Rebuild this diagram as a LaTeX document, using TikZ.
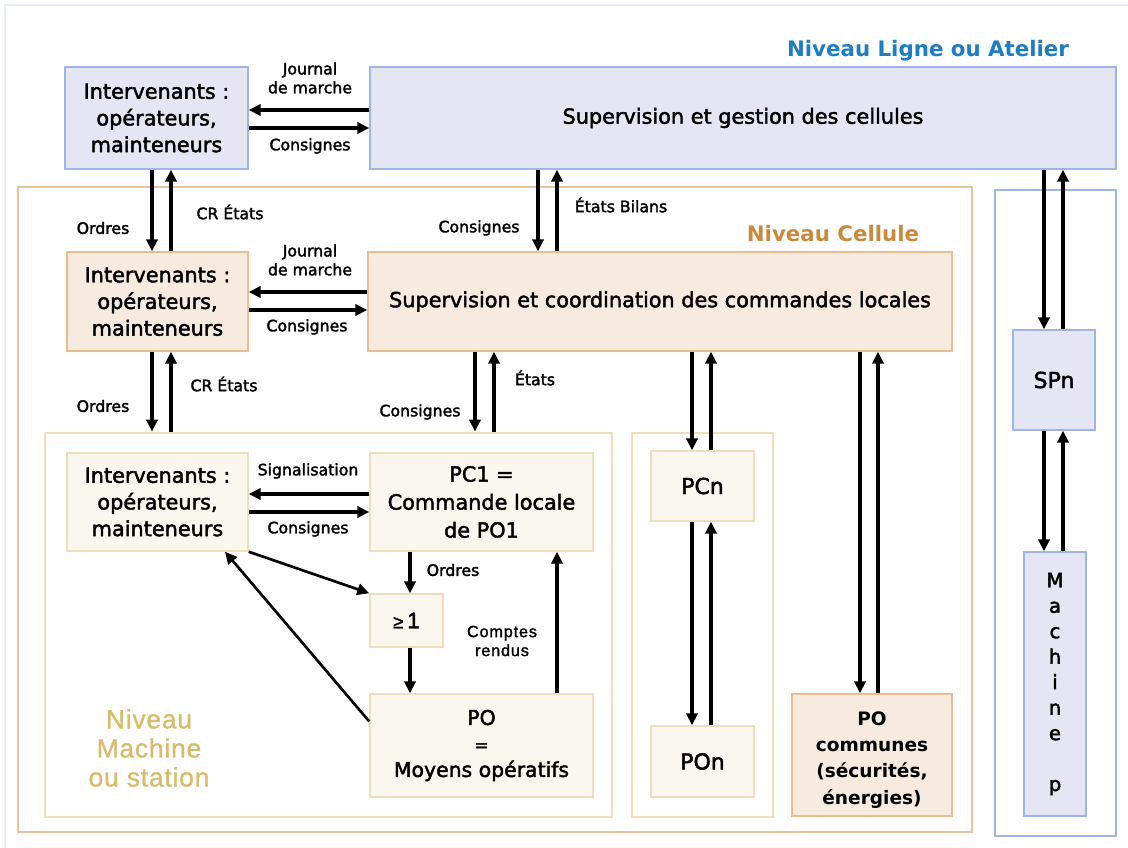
\documentclass[tikz,border=0pt]{standalone}
\usepackage{fontspec}
\setmainfont{DejaVu Sans}
\newfontfamily\boxf[FakeBold=2]{DejaVu Sans}
\newfontfamily\narrowlf[FakeBold=1,LetterSpace=3]{Liberation Sans}
\newfontfamily\narrowsf[FakeBold=1.5,LetterSpace=5]{Liberation Sans}
\usetikzlibrary{arrows.meta,calc}

\definecolor{bfill}{HTML}{E4E7F3}
\definecolor{bbord}{HTML}{9FB6E3}
\definecolor{pfill}{HTML}{F7EBDF}
\definecolor{pbord}{HTML}{E8BD8F}
\definecolor{cfill}{HTML}{FAF7EE}
\definecolor{cbord}{HTML}{EEDFBA}
\definecolor{cellc}{HTML}{E7C39C}
\definecolor{machc}{HTML}{EEDFBA}
\definecolor{outerc}{HTML}{E9EDF8}
\definecolor{tblue}{HTML}{1C7DC3}
\definecolor{torange}{HTML}{C98A3D}
\definecolor{tgold}{HTML}{D6BC6B}

\tikzset{
  sz/.style 2 args={minimum width={#1*0.75pt}, minimum height={#2*0.75pt}},
  boxtext/.style={align=center, inner sep=0pt, text=black,
    font=\boxf\fontsize{15.6pt}{20pt}\selectfont},
  bluebox/.style={boxtext, draw=bbord, fill=bfill, line width=1.1pt},
  peachbox/.style={boxtext, draw=pbord, fill=pfill, line width=1.1pt},
  creambox/.style={boxtext, draw=cbord, fill=cfill, line width=1.1pt},
  frame/.style={inner sep=0pt, line width=2.2pt},
  lbl/.style={align=center, inner sep=0pt, text=black,
    font=\boxf\fontsize{11.8pt}{14.2pt}\selectfont},
  arr/.style={line width=2.3pt, -{Triangle[length=9pt,width=8.5pt]}},
  title/.style={inner sep=0pt, font=\bfseries\fontsize{16pt}{20pt}\selectfont},
}

\begin{document}
\begin{tikzpicture}[x=0.75pt,y=-0.75pt]
\useasboundingbox (0,0) rectangle (1128,848);
\fill[white] (0,0) rectangle (1128,848);
\draw[outerc, line width=2.2pt] (5,900) -- (5,5) -- (1200,5);

% level frames
\node[frame, draw=cellc, sz={954}{645}] (cell) at (495,509.5) {};
\node[frame, draw=machc, sz={567}{384}] (mach) at (328.5,625) {};
\node[frame, draw=machc, sz={141}{384}] (pcnf) at (702.5,625) {};
\node[frame, draw=bbord, line width=1.1pt, sz={121}{646}] (machpf) at (1055.5,513) {};

% level titles
\node[title, text=tblue] (tligne) at (928,51) {Niveau Ligne ou Atelier};
\node[title, text=torange] (tcell) at (833,234) {Niveau Cellule};
\node[align=center, inner sep=0pt, text=tgold,
      font=\narrowlf\fontsize{19.8pt}{21.8pt}\selectfont] (tmach) at (149,748)
      {Niveau\\Machine\\ou station};

% boxes
\node[bluebox, sz={183}{102}] (int1) at (156.5,118) {Intervenants :\\opérateurs,\\mainteneurs};
\node[bluebox, sz={746}{102}] (sg) at (743,118) {Supervision et gestion des cellules};
\node[peachbox, sz={181}{99}] (int2) at (157.5,301.5) {Intervenants :\\opérateurs,\\mainteneurs};
\node[peachbox, sz={584}{99}] (sc) at (660,301.5) {Supervision et coordination des commandes locales};
\node[creambox, sz={181}{98}] (int3) at (157.5,502) {Intervenants :\\opérateurs,\\mainteneurs};
\node[creambox, sz={223}{98}, font=\boxf\fontsize{15.6pt}{21pt}\selectfont] (pc1) at (481.5,502) {PC1 =\\Commande locale\\de PO1};
\node[creambox, sz={73}{53}, font=\narrowsf\fontsize{17pt}{19pt}\selectfont] (geq) at (406.5,620.5) {{\fontsize{14pt}{14pt}\selectfont ≥}\,1};
\node[creambox, sz={223}{103}, font=\boxf\fontsize{15.3pt}{19.5pt}\selectfont] (po) at (481.5,745.5) {PO\\{\fontsize{12.5pt}{19.5pt}\selectfont =}\\Moyens opératifs};
\node[creambox, sz={103}{70}, font=\boxf\fontsize{16.5pt}{20pt}\selectfont] (pcn) at (702.5,486) {PCn};
\node[creambox, sz={103}{71}, font=\boxf\fontsize{16.5pt}{20pt}\selectfont] (pon) at (702.5,761.5) {POn};
\node[peachbox, sz={160}{122}] (poc) at (872,755) {};
\node[align=center, inner sep=0pt, font=\bfseries\fontsize{13.9pt}{19.6pt}\selectfont] (poct) at (872,760) {PO\\communes\\(sécurités,\\énergies)};
\node[bluebox, sz={82}{100}, font=\boxf\fontsize{16.5pt}{20pt}\selectfont] (spn) at (1054,380) {SPn};
\node[bluebox, sz={62}{264}, font=\boxf\fontsize{14.8pt}{19.1pt}\selectfont] (machp) at (1055,684) {M\\a\\c\\h\\i\\n\\e\\[19.1pt]p};

% alignment guides for the connectors
\coordinate (yJ1) at (0,110);  \coordinate (yC1) at (0,128);
\coordinate (yJ2) at (0,292);  \coordinate (yC2) at (0,310);
\coordinate (yS3) at (0,494);  \coordinate (yC3) at (0,512);
\coordinate (xO) at (152,0);   \coordinate (xCR) at (171,0);
\coordinate (xCs) at (538,0);  \coordinate (xEB) at (557,0);
\coordinate (xC6) at (475,0);  \coordinate (xE6) at (494,0);
\coordinate (xOr) at (410,0);  \coordinate (xCRr) at (557,0);
\coordinate (xPn1) at (692,0); \coordinate (xPn2) at (711,0);
\coordinate (xPc1) at (860,0); \coordinate (xPc2) at (878,0);
\coordinate (xS1) at (1044,0); \coordinate (xS2) at (1063,0);

% connectors
\draw[arr] (sg.west |- yJ1) -- (int1.east |- yJ1);
\draw[arr] (int1.east |- yC1) -- (sg.west |- yC1);
\draw[arr] (int1.south -| xO) -- (int2.north -| xO);
\draw[arr] (int2.north -| xCR) -- (int1.south -| xCR);
\draw[arr] (sg.south -| xCs) -- (sc.north -| xCs);
\draw[arr] (sc.north -| xEB) -- (sg.south -| xEB);
\draw[arr] (sc.west |- yJ2) -- (int2.east |- yJ2);
\draw[arr] (int2.east |- yC2) -- (sc.west |- yC2);
\draw[arr] (int2.south -| xO) -- (mach.north -| xO);
\draw[arr] (mach.north -| xCR) -- (int2.south -| xCR);
\draw[arr] (sc.south -| xC6) -- (mach.north -| xC6);
\draw[arr] (mach.north -| xE6) -- (sc.south -| xE6);
\draw[arr] (pc1.west |- yS3) -- (int3.east |- yS3);
\draw[arr] (int3.east |- yC3) -- (pc1.west |- yC3);
\draw[arr] (pc1.south -| xOr) -- (geq.north -| xOr);
\draw[arr] (geq.south -| xOr) -- (po.north -| xOr);
\draw[arr] (po.north -| xCRr) -- (pc1.south -| xCRr);
\draw[arr, line width=2pt] (int3.south east) -- (geq.north west);
\draw[arr, line width=2pt] ($(po.north west)!0.27!(po.south west)$) -- ($(int3.south west)!0.87!(int3.south east)$);
\draw[arr] (sc.south -| xPn1) -- (pcn.north -| xPn1);
\draw[arr] (pcn.north -| xPn2) -- (sc.south -| xPn2);
\draw[arr] (pcn.south -| xPn1) -- (pon.north -| xPn1);
\draw[arr] (pon.north -| xPn2) -- (pcn.south -| xPn2);
\draw[arr] (sc.south -| xPc1) -- (poc.north -| xPc1);
\draw[arr] (poc.north -| xPc2) -- (sc.south -| xPc2);
\draw[arr] (sg.south -| xS1) -- (spn.north -| xS1);
\draw[arr] (spn.north -| xS2) -- (sg.south -| xS2);
\draw[arr] (spn.south -| xS1) -- (machp.north -| xS1);
\draw[arr] (machp.north -| xS2) -- (spn.south -| xS2);

% connector labels
\node[lbl] (l1) at (310,78) {Journal\\de marche};
\node[lbl] (l2) at (310,146) {Consignes};
\node[lbl] (l3) at (103,228) {Ordres};
\node[lbl] (l4) at (230,212) {CR États};
\node[lbl] (l5) at (479,228) {Consignes};
\node[lbl] (l6) at (621,205) {États Bilans};
\node[lbl] (l7) at (310,260) {Journal\\de marche};
\node[lbl] (l8) at (307,327) {Consignes};
\node[lbl] (l9) at (103,406) {Ordres};
\node[lbl] (l10) at (224,384) {CR États};
\node[lbl] (l11) at (420,412) {Consignes};
\node[lbl] (l12) at (535,378) {États};
\node[lbl] (l13) at (308,471) {Signalisation};
\node[lbl] (l14) at (308,529) {Consignes};
\node[lbl] (l15) at (453,570) {Ordres};
\node[lbl, font=\narrowsf\fontsize{12.2pt}{14.2pt}\selectfont] (l16) at (502,641) {Comptes\\rendus};
\end{tikzpicture}
\end{document}
